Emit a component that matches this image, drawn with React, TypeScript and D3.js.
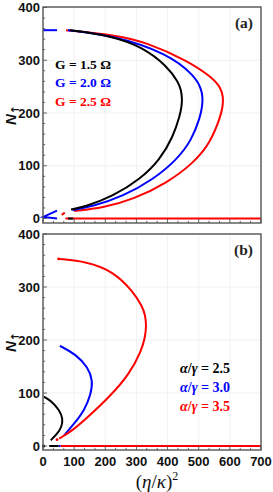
import React from "react";
import * as d3 from "d3";

type Pt = [number, number];

const xTicks = [0, 100, 200, 300, 400, 500, 600, 700];
const yTicks = [0, 100, 200, 300, 400];

// Panel (a): G = 1.5, 2.0, 2.5 Ω  — points [(η/κ)², N↑], ordered by N
const curveG15: Pt[] = [[90, 17], [138, 23], [224, 42], [311, 74], [375, 111], [418, 155], [440, 196], [445, 212], [447, 228], [443, 244], [435, 258], [400, 288], [321, 325], [214, 347], [87, 357]];
const curveG20: Pt[] = [[95, 16], [160, 23], [257, 42], [354, 74], [429, 111], [478, 149], [505, 193], [511, 212], [513, 230], [508, 246], [488, 270], [400, 313], [225, 347], [80, 357]];
const curveG25: Pt[] = [[100, 14], [192, 20], [289, 36], [397, 67], [483, 105], [537, 143], [570, 193], [577, 212], [579, 230], [571, 248], [542, 268], [462, 300], [330, 334], [240, 347], [74, 357]];
const blueTopA: Pt[] = [[0, 357], [45, 357]];
const blueLowA: Pt[] = [[45, 15], [1, 3], [45, 0]];
const redLinkA: Pt[] = [[60, 7], [70, 11]];
const redBaseA: Pt[] = [[72, 0], [700, 0]];
const blackBaseA: Pt[] = [[80, 0], [97, 0]];

// Panel (b): α/γ = 2.5, 3.0, 3.5
const curveR25: Pt[] = [[25, 11], [46, 23], [60, 36], [64, 51], [54, 67], [25, 86], [3, 93]];
const curveR30: Pt[] = [[68, 20], [100, 42], [133, 67], [154, 98], [160, 123], [145, 148], [106, 173], [54, 189]];
const curveR35: Pt[] = [[52, 14], [95, 29], [145, 55], [214, 93], [278, 136], [316, 180], [328, 205], [332, 228], [328, 248], [318, 264], [289, 292], [224, 330], [140, 348], [50, 353]];
const blackBaseB: Pt[] = [[20, 0], [50, 0]];
const blueBaseB: Pt[] = [[50, 0], [56, 0]];
const redBaseB: Pt[] = [[56, 0], [700, 0]];

const legendA = ["G = 1.5 Ω", "G = 2.0 Ω", "G = 2.5 Ω"];
const legendBValues = ["2.5", "3.0", "3.5"];
const colors = ["#000000", "#0000ff", "#ff0000"];

const X0 = 43, X1 = 261;

function Panel(props: {
  top: number; y0: number; y400: number; bottom: number; label: string; showXLabels: boolean;
  children: (x: d3.ScaleLinear<number, number>, y: d3.ScaleLinear<number, number>) => React.ReactNode;
}) {
  const { top, y0, y400, bottom, label, showXLabels } = props;
  const x = d3.scaleLinear().domain([0, 700]).range([X0, X1]);
  const y = d3.scaleLinear().domain([0, 400]).range([y0, y400]);
  const xMinor = d3.range(0, 700.01, 100 / 3);
  const yMinor = d3.range(0, 400.01, 20);
  const frame = "#555";
  return (
    <g>
      {xTicks.map((t) => (
        <line key={"gx" + t} x1={x(t)} x2={x(t)} y1={top} y2={bottom} stroke="#ededed" strokeWidth={0.8} />
      ))}
      {yTicks.map((t) => (
        <line key={"gy" + t} x1={X0} x2={X1} y1={y(t)} y2={y(t)} stroke="#ededed" strokeWidth={0.8} />
      ))}
      {props.children(x, y)}
      <rect x={X0} y={top} width={X1 - X0} height={bottom - top} fill="none" stroke={frame} strokeWidth={1.4} />
      {xMinor.map((t, i) => (
        <line key={"xm" + i} x1={x(t)} x2={x(t)} y1={bottom} y2={bottom - (i % 3 === 0 ? 4 : 2.2)} stroke={frame} strokeWidth={0.9} />
      ))}
      {yMinor.map((t, i) => (
        <line key={"ym" + i} x1={X0} x2={X0 + (i % 5 === 0 ? 4 : 2.2)} y1={y(t)} y2={y(t)} stroke={frame} strokeWidth={0.9} />
      ))}
      {yTicks.map((t) => (
        <text key={"yl" + t} x={40} y={y(t) + 4.5} textAnchor="end" fontFamily="Liberation Sans, Arial, sans-serif" fontWeight="bold" fontSize={13} fill="#111">{t}</text>
      ))}
      {showXLabels && xTicks.map((t) => (
        <text key={"xl" + t} x={x(t)} y={bottom + 16} textAnchor="middle" fontFamily="Liberation Sans, Arial, sans-serif" fontWeight="bold" fontSize={13} fill="#111">{t}</text>
      ))}
      <text x={253} y={top + 21} textAnchor="end" fontFamily="Liberation Serif, Times New Roman, serif" fontWeight="bold" fontSize={15.5} fill="#222">{label}</text>
      <text transform={`translate(16,${(top + bottom) / 2}) rotate(-90)`} textAnchor="middle" fontFamily="Liberation Sans, Arial, sans-serif" fontWeight="bold" fontSize={15} fill="#111">
        <tspan fontStyle="italic">N</tspan><tspan fontFamily="DejaVu Sans, sans-serif" fontWeight="bold" fontSize={11} dy={3}>↑</tspan>
      </text>
    </g>
  );
}

export default function App() {
  const lineGen = (x: d3.ScaleLinear<number, number>, y: d3.ScaleLinear<number, number>, smooth: boolean) =>
    d3.line<Pt>().x((d) => x(d[0])).y((d) => y(d[1])).curve(smooth ? d3.curveBasis : d3.curveLinear);
  const sw = 2;
  return (
    <svg width={273} height={492} style={{ position: "absolute", left: 0, top: 0, background: "#fff" }}>
      <Panel top={7} bottom={223} y0={218.5} y400={7.5} label="(a)" showXLabels={false}>
        {(x, y) => {
          const s = lineGen(x, y, true);
          const l = lineGen(x, y, false);
          return (
            <g fill="none" strokeLinecap="butt">
              <path d={l(redBaseA) || ""} stroke={colors[2]} strokeWidth={sw} />
              <path d={l(blackBaseA) || ""} stroke={colors[0]} strokeWidth={sw} />
              <path d={l(blueTopA) || ""} stroke={colors[1]} strokeWidth={sw} />
              <path d={l(blueLowA) || ""} stroke={colors[1]} strokeWidth={sw} />
              <path d={l(redLinkA) || ""} stroke={colors[2]} strokeWidth={sw} />
              <path d={s(curveG25) || ""} stroke={colors[2]} strokeWidth={sw} />
              <path d={s(curveG20) || ""} stroke={colors[1]} strokeWidth={sw} />
              <path d={s(curveG15) || ""} stroke={colors[0]} strokeWidth={sw} />
              {legendA.map((t, i) => (
                <text key={t} x={55} y={68.5 + i * 18.5} fill={colors[i]} stroke="none" fontFamily="Liberation Serif, Times New Roman, serif" fontWeight="bold" fontSize={13.5}>{t}</text>
              ))}
            </g>
          );
        }}
      </Panel>
      <Panel top={234} bottom={450} y0={446} y400={234} label="(b)" showXLabels={true}>
        {(x, y) => {
          const s = lineGen(x, y, true);
          const l = lineGen(x, y, false);
          return (
            <g fill="none">
              <path d={l(redBaseB) || ""} stroke={colors[2]} strokeWidth={sw} />
              <path d={l(blueBaseB) || ""} stroke={colors[1]} strokeWidth={sw} />
              <path d={l(blackBaseB) || ""} stroke={colors[0]} strokeWidth={sw} />
              <circle cx={x(2)} cy={y(0)} r={1.6} fill="#000" stroke="none" />
              <path d={s(curveR25) || ""} stroke={colors[0]} strokeWidth={sw} />
              <path d={s(curveR30) || ""} stroke={colors[1]} strokeWidth={sw} />
              <path d={s(curveR35) || ""} stroke={colors[2]} strokeWidth={sw} />
              <circle cx={x(50)} cy={y(353)} r={1.4} fill={colors[2]} stroke="none" />
              <circle cx={x(45)} cy={y(12)} r={1.4} fill={colors[2]} stroke="none" />
              {legendBValues.map((v, i) => (
                <text key={v} x={180} y={372.5 + i * 19} fill={colors[i]} stroke="none" fontFamily="Liberation Serif, Times New Roman, serif" fontWeight="bold" fontSize={14}>
                  <tspan fontStyle="italic">α</tspan>/<tspan fontStyle="italic">γ</tspan>{" = " + v}
                </text>
              ))}
            </g>
          );
        }}
      </Panel>
      <text x={157} y={488} textAnchor="middle" fontFamily="Liberation Serif, Times New Roman, serif" fontSize={19} fill="#111">
        (<tspan fontStyle="italic">η</tspan>/<tspan fontStyle="italic">κ</tspan>)<tspan fontSize={12} dy={-8}>2</tspan>
      </text>
    </svg>
  );
}
